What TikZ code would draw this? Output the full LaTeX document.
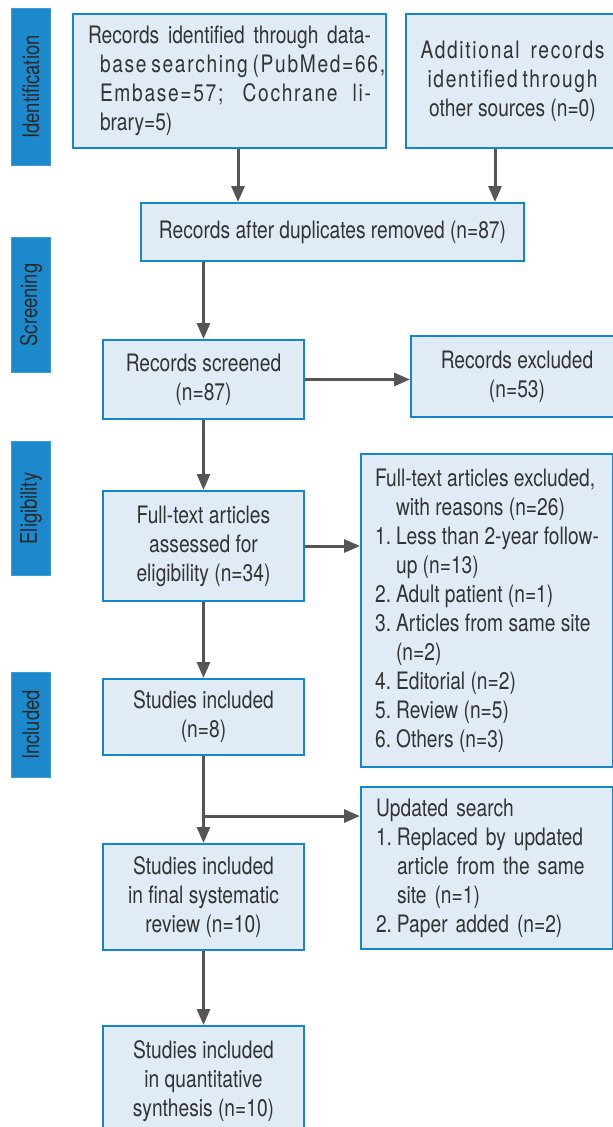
\documentclass[tikz,border=0pt]{standalone}
\usepackage{fontspec}
\setmainfont{TeX Gyre Heros}[FakeStretch=0.80]
\usetikzlibrary{arrows.meta,calc}
\definecolor{boxfill}{RGB}{225,235,246}
\definecolor{boxline}{RGB}{22,134,204}
\definecolor{labfill}{RGB}{27,137,203}
\definecolor{labline}{RGB}{60,154,214}
\definecolor{txt}{RGB}{51,51,51}
\definecolor{labtxt}{RGB}{40,40,40}
\definecolor{arrc}{RGB}{85,85,85}
\newcommand{\trk}[2]{\makebox[#1][s]{\addfontfeatures{LetterSpace=7}#2}}
\tikzset{
  stage/.style={draw=boxline, fill=boxfill, line width=2pt, text=txt, inner sep=0pt,
    font=\fontsize{24}{29}\selectfont},
  phase/.style={fill=labfill, draw=labline, line width=1pt, text=labtxt, rotate=90, inner sep=0pt,
    minimum height=39pt, font=\fontsize{23}{29}\selectfont},
  flow/.style={draw=arrc, line width=3pt, -{Triangle[length=16pt,width=13pt]}},
}
\begin{document}
\begin{tikzpicture}[x=1pt,y=-1pt]
\useasboundingbox (0,0) rectangle (613,1127);
% phase labels
\node[phase, minimum width=157pt] (L1) at (31,87) {Identification};
\node[phase, minimum width=135pt] (L2) at (31,305) {Screening};
\node[phase, minimum width=134pt] (L3) at (31,508.5) {Eligibility};
\node[phase, minimum width=105pt] (L4) at (31,725) {Included};
% boxes
\node[stage, align=left, minimum width=313pt, minimum height=134pt] (b1) at (229.5,81)
  {\makebox[283pt][s]{Records identified through data-}\\
   \hspace*{12pt}\trk{271pt}{base searching (PubMed=66,}\\
   \hspace*{12pt}\trk{271pt}{Embase=57; Cochrane li-}\\
   \hspace*{12pt}brary=5)};
\node[stage, align=center, minimum width=213pt, minimum height=134pt] (b2) at (512.5,81)
  {\trk{184pt}{Additional records}\\
   \trk{170pt}{identified through}\\
   other sources (n=0)};
\node[stage, minimum width=383pt, minimum height=58pt] (dup) at (332.5,232)
  {Records after duplicates removed (n=87)};
\node[stage, align=center, minimum width=201pt, minimum height=79pt] (scr) at (203.5,379.5)
  {Records screened\\(n=87)};
\node[stage, align=center, minimum width=212pt, minimum height=81pt] (exc) at (517,376.5)
  {Records excluded\\(n=53)};
\node[stage, align=center, minimum width=201pt, minimum height=110pt] (ft) at (203.5,546)
  {Full-text articles\\assessed for\\eligibility (n=34)};
\node[stage, align=left, minimum width=252pt, minimum height=313pt] (rsn) at (487,610.5)
  {Full-text articles excluded,\\
   \hspace*{21pt}with reasons (n=26)\\
   \makebox[21pt][l]{1.}Less than 2-year follow-\\
   \hspace*{21pt}up (n=13)\\
   \makebox[21pt][l]{2.}Adult patient (n=1)\\
   \makebox[21pt][l]{3.}Articles from same site\\
   \hspace*{21pt}(n=2)\\
   \makebox[21pt][l]{4.}Editorial (n=2)\\
   \makebox[21pt][l]{5.}Review (n=5)\\
   \makebox[21pt][l]{6.}Others (n=3)};
\node[stage, align=center, minimum width=201pt, minimum height=76pt] (inc) at (203.5,717)
  {Studies included\\(n=8)};
\node[stage, align=left, text width=222pt, minimum width=252pt, minimum height=162pt] (upd) at (487,868)
  {Updated search\\
   \makebox[21pt][l]{1.}Replaced by updated\\
   \hspace*{21pt}article from the same\\
   \hspace*{21pt}site (n=1)\\
   \makebox[21pt][l]{2.}Paper added (n=2)};
\node[stage, align=center, minimum width=201pt, minimum height=106pt] (fin) at (203.5,897)
  {Studies included\\in final systematic\\review (n=10)};
\node[stage, align=center, minimum width=201pt, minimum height=110pt] (qua) at (203.5,1081)
  {Studies included\\in quantitative\\synthesis (n=10)};
% connectors
\draw[flow] ([xshift=8.5pt]b1.south) -- ([xshift=8.5pt]b1.south |- dup.north);
\draw[flow] ([xshift=-17.5pt]b2.south) -- ([xshift=-17.5pt]b2.south |- dup.north);
\draw[flow] (scr.north |- dup.south) -- (scr.north);
\draw[flow] (scr.east) -- (scr.east -| exc.west);
\draw[flow] (scr.south) -- (ft.north);
\draw[flow] (ft.east) -- (ft.east -| rsn.west);
\draw[flow] (ft.south) -- (inc.north);
\path (inc.south) -- (fin.north) coordinate[pos=0.69] (br);
\draw[flow] (inc.south) -- (fin.north);
\draw[flow] (br) -- (br -| upd.west);
\draw[flow] (fin.south) -- (qua.north);
\end{tikzpicture}
\end{document}
